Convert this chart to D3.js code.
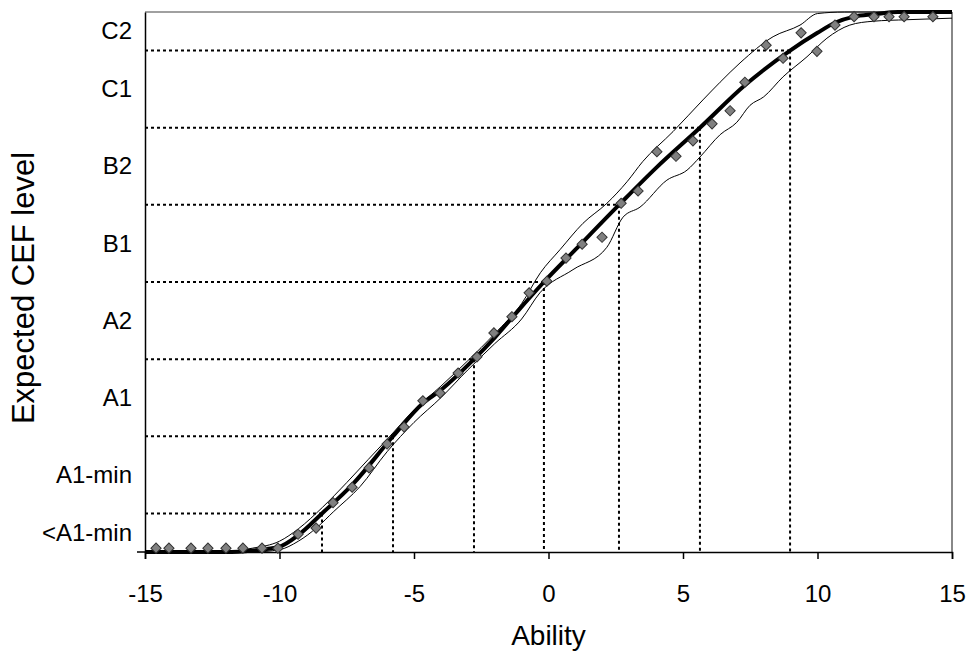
<!DOCTYPE html>
<html>
<head>
<meta charset="utf-8">
<script src="https://cdn.jsdelivr.net/npm/d3@7"></script>
<style>
  body { margin: 0; background: #fff; }
  text { font-family: "Liberation Sans", Arial, sans-serif; fill: #000; }
</style>
</head>
<body>
<div id="chart"></div>
<script>
// observed points (ability, expected level)
var obsX = [-14.59, -14.11, -13.29, -12.66, -11.99, -11.36, -10.65, -10.06, -9.31, -8.64,
            -8.01, -7.30, -6.67, -6.00, -5.37, -4.67, -4.03, -3.36, -2.66, -2.03,
            -1.36, -0.72, -0.06, 0.65, 1.25, 1.99, 2.70, 3.33, 4.03, 4.74,
            5.37, 6.08, 6.75, 7.30, 8.09, 8.72, 9.39, 9.98, 10.65, 11.36,
            12.10, 12.66, 13.22, 14.29]
var obsY = [0.05, 0.05, 0.05, 0.05, 0.05, 0.05, 0.05, 0.05, 0.23, 0.31,
            0.64, 0.84, 1.09, 1.40, 1.62, 1.96, 2.06, 2.32, 2.53, 2.84,
            3.05, 3.36, 3.51, 3.81, 3.99, 4.08, 4.52, 4.68, 5.19, 5.13,
            5.33, 5.55, 5.72, 6.09, 6.57, 6.40, 6.73, 6.49, 6.83, 6.94,
            6.94, 6.94, 6.94, 6.94]

// expected curve
var fitX = [-15, -12, -11, -10, -9.3, -8.42, -7.3, -5.78, -4.7, -4, -2.77, -2, -1.2, -0.17,
            1, 2.62, 4, 5.63, 7.3, 8.98, 10, 10.65, 11.36, 12.1, 13, 15]
var fitY = [0, 0, 0.02, 0.07, 0.22, 0.5, 0.87, 1.5, 1.92, 2.1, 2.5, 2.78, 3.1, 3.5,
            3.92, 4.5, 4.98, 5.5, 6.05, 6.5, 6.73, 6.86, 6.94, 6.97, 7, 7]

// upper band
var upX = [-15, -12, -11, -10, -9.3, -8.4, -7.5, -6.7, -6, -5, -4, -3, -2, -1, -0.3,
           0.43, 1.28, 2.17, 2.92, 3.5, 4.63, 5.74, 6.38, 7.12, 8.35, 9.35, 10, 11, 15]
var upY = [0, 0.01, 0.05, 0.14, 0.3, 0.58, 0.9, 1.2, 1.46, 1.84, 2.15, 2.48, 2.83, 3.22, 3.62,
           3.92, 4.26, 4.52, 4.8, 5.06, 5.45, 5.86, 6.09, 6.34, 6.68, 6.83, 6.98, 7, 7]

// lower band
var loX = [-15, -11, -10, -9.3, -8.6, -8, -7, -6, -5, -4, -3, -2, -1, -0.32, 0.91, 2.17,
           2.77, 3.4, 4.4, 5.15, 5.63, 6.38, 7, 7.49, 8, 8.72, 9.61, 10.35, 11.2, 12.06, 13.33, 15]
var loY = [0, 0, 0.03, 0.14, 0.32, 0.52, 0.85, 1.3, 1.68, 2.0, 2.36, 2.7, 3.02, 3.36, 3.66, 3.95,
           4.34, 4.47, 4.82, 4.95, 5.12, 5.41, 5.57, 5.79, 5.9, 6.16, 6.42, 6.66, 6.83, 6.88, 6.9, 6.92]

// level boundaries and where the expected curve crosses them
var cutLevels = [0.5, 1.5, 2.5, 3.5, 4.5, 5.5, 6.5]
var cutAbility = [-8.42, -5.78, -2.77, -0.17, 2.62, 5.63, 8.98]

var levelNames = ["<A1-min", "A1-min", "A1", "A2", "B1", "B2", "C1", "C2"]
var levelPos = [0.25, 1, 2, 3, 4, 5, 6, 6.75]
var xTicks = [-15, -10, -5, 0, 5, 10, 15]

var W = 969, H = 651
var margin = {top: 12, right: 17, bottom: 99, left: 145}
var width = W - margin.left - margin.right,
    height = H - margin.top - margin.bottom

var svg = d3.select("#chart").append("svg")
    .attr("width", W).attr("height", H)
var g = svg.append("g")
    .attr("transform", "translate(" + margin.left + "," + margin.top + ")")

var x = d3.scaleLinear().domain([-15, 15]).range([0, width])
var y = d3.scaleLinear().domain([0, 7]).range([height, 0])

// plot frame (top and right)
g.append("line").attr("x1", 0).attr("x2", width).attr("y1", 0).attr("y2", 0)
  .attr("stroke", "#808080").attr("stroke-width", 1.5)
g.append("line").attr("x1", width).attr("x2", width).attr("y1", 0).attr("y2", height)
  .attr("stroke", "#606060").attr("stroke-width", 1.5)

// dotted guides
cutLevels.forEach(function (lv, i) {
  g.append("line")
    .attr("x1", 0).attr("x2", x(cutAbility[i]))
    .attr("y1", y(lv)).attr("y2", y(lv))
    .attr("stroke", "#000").attr("stroke-width", 2).attr("stroke-dasharray", "3,3")
  g.append("line")
    .attr("x1", x(cutAbility[i])).attr("x2", x(cutAbility[i]))
    .attr("y1", y(lv)).attr("y2", height)
    .attr("stroke", "#000").attr("stroke-width", 2).attr("stroke-dasharray", "3,3")
})

// axes
var xAxis = g.append("g")
  .attr("transform", "translate(0," + height + ")")
  .call(d3.axisBottom(x).tickValues(xTicks).tickSize(7).tickPadding(26)
        .tickFormat(function (d) { return String(d) }))
xAxis.select(".domain").attr("stroke", "#000").attr("stroke-width", 1.5)
xAxis.selectAll(".tick line").attr("stroke-width", 1.5)
xAxis.selectAll("text").style("font-size", "24px").attr("font-family", null)

var yAxis = g.append("g")
  .call(d3.axisLeft(y).tickValues(levelPos).tickSize(0).tickPadding(13)
        .tickFormat(function (d, i) { return levelNames[i] }))
yAxis.select(".domain").attr("stroke", "#000").attr("stroke-width", 1.5)
yAxis.selectAll("text").style("font-size", "24px").attr("font-family", null)
// single tick at the origin
g.append("line").attr("x1", -8).attr("x2", 0).attr("y1", height).attr("y2", height)
  .attr("stroke", "#000").attr("stroke-width", 1.5)

var line = d3.line()
  .x(function (p) { return x(p[0]) })
  .y(function (p) { return y(p[1]) })
  .curve(d3.curveMonotoneX)

g.append("path").attr("d", line(d3.zip(upX, upY)))
  .attr("fill", "none").attr("stroke", "#000").attr("stroke-width", 1)
g.append("path").attr("d", line(d3.zip(loX, loY)))
  .attr("fill", "none").attr("stroke", "#000").attr("stroke-width", 1)
g.append("path").attr("d", line(d3.zip(fitX, fitY)))
  .attr("fill", "none").attr("stroke", "#000").attr("stroke-width", 4)

var diamond = d3.symbol().type(d3.symbolSquare).size(52)
g.selectAll(".obs").data(d3.zip(obsX, obsY)).enter()
  .append("path")
  .attr("class", "obs")
  .attr("d", diamond)
  .attr("transform", function (p) { return "translate(" + x(p[0]) + "," + y(p[1]) + ") rotate(45)" })
  .attr("fill", "#808080").attr("stroke", "#333").attr("stroke-width", 1)

// axis titles
svg.append("text")
  .attr("x", margin.left + x(0)).attr("y", 645)
  .attr("text-anchor", "middle").style("font-size", "28px")
  .text("Ability")
svg.append("text")
  .attr("transform", "translate(34," + (margin.top + height / 2 + 6) + ") rotate(-90)")
  .attr("text-anchor", "middle").style("font-size", "31px")
  .text("Expected CEF level")
</script>
</body>
</html>
